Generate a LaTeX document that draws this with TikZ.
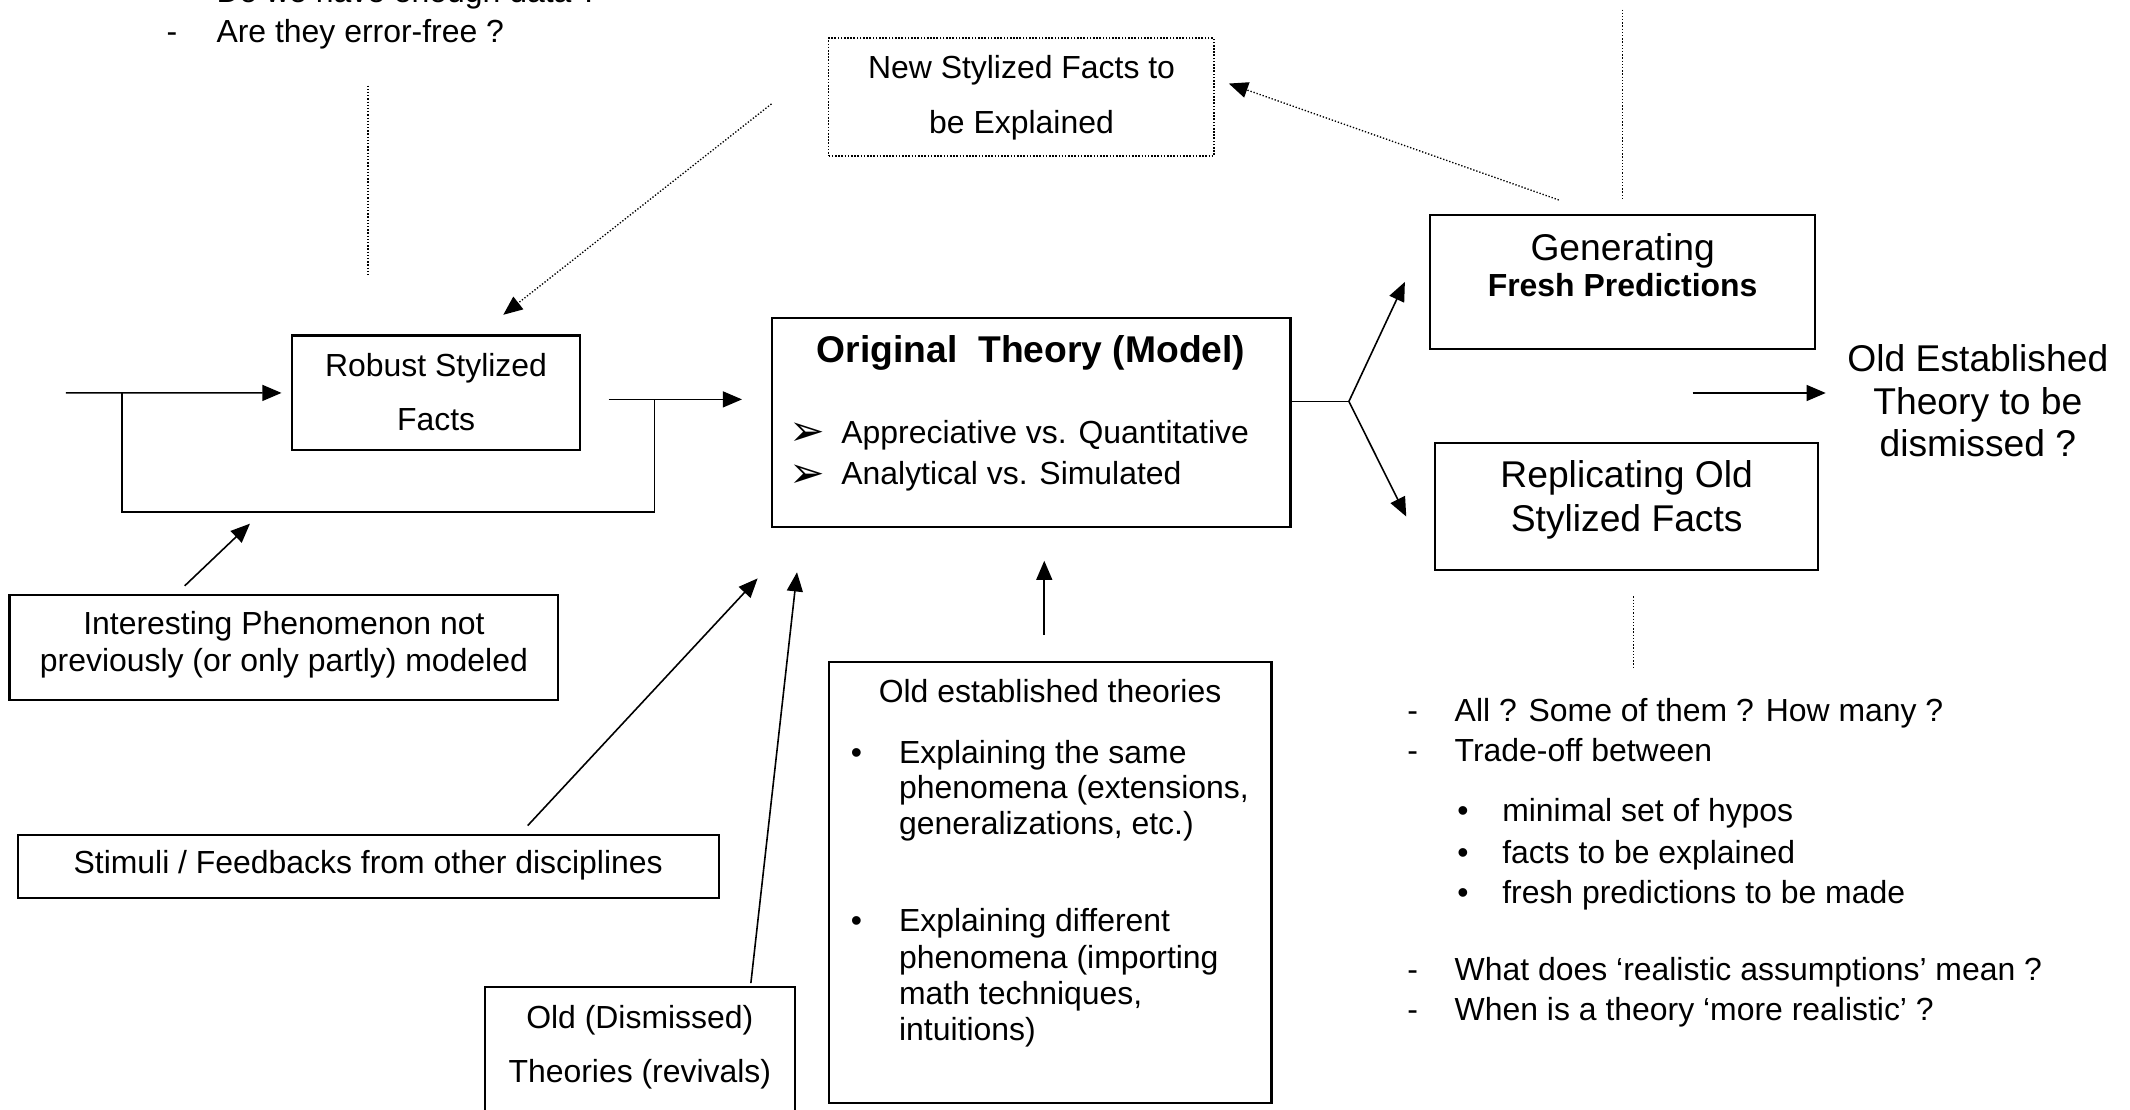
\documentclass[tikz,border=0pt]{standalone}
\usepackage{fontspec}
\setmainfont{Liberation Sans}
\newfontfamily\dejavu{DejaVu Sans}
\usetikzlibrary{arrows.meta,fit,calc}
\begin{document}
\begin{tikzpicture}[x=0.5106pt,y=-0.5106pt,
  box/.style={draw,line width=0.8pt,inner sep=0pt},
  dotbox/.style={draw,line width=0.6pt,dash pattern=on 0.6pt off 0.6pt,inner sep=0pt},
  txt/.style={inner sep=0pt,anchor=base,font=\fontsize{12}{14}\selectfont},
  ltxt/.style={txt,anchor=base west},
  bigtxt/.style={inner sep=0pt,anchor=base,font=\fontsize{14}{16}\selectfont},
  arrowglyph/.style={inner sep=0pt,anchor=base,font=\fontsize{16}{18}\selectfont\dejavu},
  arr/.style={line width=0.6pt,-{Triangle[length=7.2pt,width=6pt]}},
  ln/.style={line width=0.6pt},
  dotln/.style={line width=0.5pt,dash pattern=on 0.5pt off 0.7pt},
  dotarr/.style={dotln,-{Triangle[length=7.2pt,width=6pt]}}
]
\useasboundingbox (0,0) rectangle (1568,817);
\clip (0,0) rectangle (1568,817);

% ---------- boxes ----------
\node[box,fit={(215,247) (427,331.5)}] (robust) {};
\node[dotbox,fit={(610,28) (893.5,115)}] (newsf) {};
\node[box,fit={(568,234) (950,388)}] (orig) {};
\node[box,fit={(1053,158) (1336,257)}] (gen) {};
\node[box,fit={(1056.5,326) (1338.5,419.5)}] (repl) {};
\node[box,fit={(7,438) (411,515)}] (interest) {};
\node[box,fit={(13,614.5) (529,661)}] (stim) {};
\node[box,fit={(357,726.5) (585.5,840)}] (olddis) {};
\node[box,fit={(610.5,487) (936,812)}] (oldest) {};

% ---------- top-left questions ----------
\node[ltxt] (q1) at (159,2) {Do we have enough data ?};
\node[txt] (q2d) at (126.5,31) {-};
\node[ltxt] (q2) at (159,31) {Are they error-free ?};

% ---------- texts in boxes ----------
\node[txt] (robust1) at (321,277) {Robust Stylized};
\node[txt] (robust2) at (321,317) {Facts};

\node[txt] (newsf1) at (752,58) {New Stylized Facts to};
\node[txt] (newsf2) at (752,98) {be Explained};

\node[bigtxt,font=\fontsize{14}{16}\selectfont\bfseries] (origT) at (759,266.5) {Original~~Theory (Model)};
\node[arrowglyph] (ob1) at (594,328) {➢};
\node[ltxt] (o1) at (619,326.5) {Appreciative vs. Quantitative};
\node[arrowglyph] (ob2) at (594,358.5) {➢};
\node[ltxt] (o2) at (619,357) {Analytical vs. Simulated};

\node[bigtxt] (gen1) at (1194.5,191.5) {Generating};
\node[txt,font=\fontsize{12}{14}\selectfont\bfseries] (gen2) at (1194.5,218.5) {Fresh Predictions};

\node[bigtxt] (repl1) at (1197.5,359) {Replicating Old};
\node[bigtxt] (repl2) at (1197.5,391) {Stylized Facts};

\node[bigtxt] (oe1) at (1456,273.5) {Old Established};
\node[bigtxt] (oe2) at (1456,305) {Theory to be};
\node[bigtxt] (oe3) at (1456,336) {dismissed ?};

\node[txt] (int1) at (209,467) {Interesting Phenomenon not};
\node[txt] (int2) at (209,494) {previously (or only partly) modeled};

\node[txt] (stim1) at (271,643) {Stimuli / Feedbacks from other disciplines};

\node[txt] (od1) at (471,757) {Old (Dismissed)};
\node[txt] (od2) at (471,796.5) {Theories (revivals)};

\node[txt] (oet) at (773,517) {Old established theories};
\node[txt] (ebul1) at (630.5,562) {•};
\node[ltxt] (e1a) at (661.5,562) {Explaining the same};
\node[ltxt] (e1b) at (661.5,588) {phenomena (extensions,};
\node[ltxt] (e1c) at (661.5,614) {generalizations, etc.)};
\node[txt] (ebul2) at (630.5,686) {•};
\node[ltxt] (e2a) at (661.5,686) {Explaining different};
\node[ltxt] (e2b) at (661.5,713) {phenomena (importing};
\node[ltxt] (e2c) at (661.5,739.5) {math techniques,};
\node[ltxt] (e2d) at (661.5,766) {intuitions)};

% ---------- right list ----------
\node[txt] (r1d) at (1040,531) {-};
\node[ltxt] (r1) at (1070.5,531) {All ? Some of them ? How many ?};
\node[txt] (r2d) at (1040,560.5) {-};
\node[ltxt] (r2) at (1070.5,560.5) {Trade-off between};
\node[txt] (rb1) at (1077,605) {•};
\node[ltxt] (rb1t) at (1105.5,605) {minimal set of hypos};
\node[txt] (rb2) at (1077,635.5) {•};
\node[ltxt] (rb2t) at (1105.5,635.5) {facts to be explained};
\node[txt] (rb3) at (1077,665) {•};
\node[ltxt] (rb3t) at (1105.5,665) {fresh predictions to be made};
\node[txt] (r3d) at (1040,721.5) {-};
\node[ltxt] (r3) at (1070.5,721.5) {What does ‘realistic assumptions’ mean ?};
\node[txt] (r4d) at (1040,751) {-};
\node[ltxt] (r4) at (1070.5,751) {When is a theory ‘more realistic’ ?};

% ---------- coordinates ----------
\coordinate (inS) at (48.5,289.25);
\coordinate (lpA) at (90,289.5);
\coordinate (lpB) at (90,377);
\coordinate (lpC) at (481.7,377);
\coordinate (lpD) at (481.7,294);
\coordinate (outS) at (448,294);
\coordinate (br) at (993,295.5);
\coordinate (oeS) at (1246,289.3);
\coordinate (oeE) at (1344,289.3);
\coordinate (intE) at (184,385.5);
\coordinate (vlTop) at (271,63);
\coordinate (vlBot) at (271,203);
\coordinate (vrTop) at (1194.5,7);
\coordinate (vbTop) at (1202.5,439);
\coordinate (vbBot) at (1202.5,492);

% ---------- solid connectors ----------
\draw[arr] (inS) -- ($(robust.west)+(-7,0)$);
\draw[ln] (lpA) -- (lpB) -- (lpC) -- (lpD);
\draw[arr] (outS) -- ($(outS -| orig.west)+(-21,0)$);
\draw[arr] ($(interest.north)+(-73,-6)$) -- (intE);
\draw[arr] ($(stim.north)+(117.5,-6)$) -- ($(orig.south west)+(-9.5,37)$);
\draw[arr] ($(olddis.north)+(81.5,-2)$) -- ($(orig.south west)+(19.5,32.5)$);
\draw[arr] ($(oldest.north)+(-4.5,-19)$) -- ($(orig.south)+(9.75,24)$);
\draw[ln] (br -| orig.east) -- (br);
\draw[arr] (br) -- ($(gen.west)+(-18,0)$);
\draw[arr] (br) -- ($(repl.west)+(-20.5,7.5)$);
\draw[arr] (oeS) -- (oeE);

% ---------- dotted connectors ----------
\draw[dotarr] ($(gen.north)+(-47,-10)$) -- ($(newsf.east)+(10.5,-10)$);
\draw[dotarr] ($(newsf.west)+(-41.5,5)$) -- ($(robust.north)+(49.5,-14.5)$);
\draw[dotln] (vlTop) -- (vlBot);
\draw[dotln] (vrTop) -- ($(gen.north)+(0,-11)$);
\draw[dotln] (vbTop) -- (vbBot);
\end{tikzpicture}
\end{document}
